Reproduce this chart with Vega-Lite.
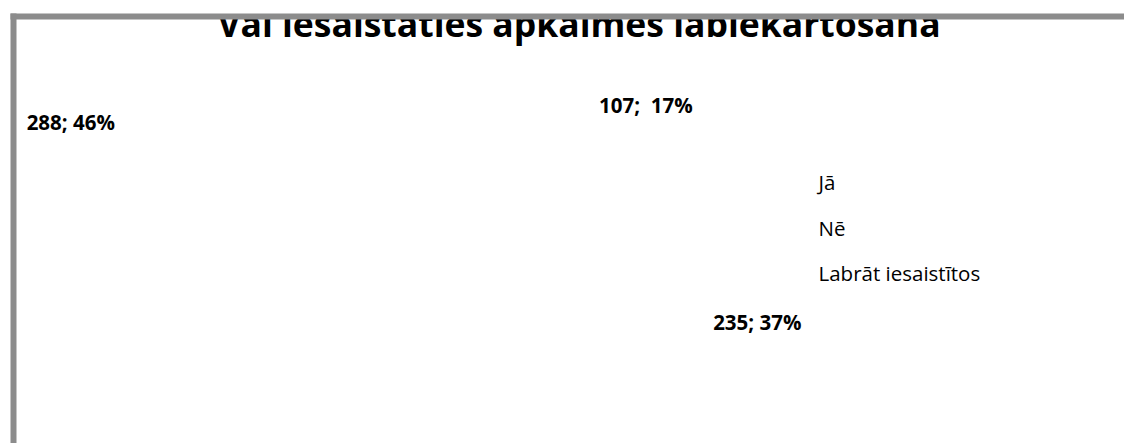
{
  "$schema": "https://vega.github.io/schema/vega-lite/v6.json",
  "width": 1132,
  "height": 430,
  "autosize": {"type": "none"},
  "padding": {"left": 13, "top": 16, "right": 0, "bottom": 0},
  "background": "white",
  "config": {"view": {"stroke": null}},
  "title": {
    "text": "Vai iesaistāties apkaimes labiekārtošanā",
    "font": "Open Sans",
    "fontSize": 35.5,
    "fontWeight": "bold",
    "color": "black",
    "anchor": "middle",
    "frame": "group",
    "baseline": "alphabetic",
    "offset": -27,
    "dy": 37.5,
    "zindex": 0
  },
  "data": {
    "values": [
      {"cat": "Jā", "n": 107, "ord": 1, "label": "107;\u00a0 17%"},
      {"cat": "Nē", "n": 235, "ord": 2, "label": "235; 37%"},
      {"cat": "Labrāt iesaistītos", "n": 288, "ord": 3, "label": "288; 46%"}
    ]
  },
  "resolve": {"scale": {"x": "independent"}},
  "encoding": {
    "theta": {"field": "n", "type": "quantitative", "stack": true},
    "order": {"field": "ord", "type": "quantitative"}
  },
  "layer": [
    {
      "mark": {"type": "arc", "outerRadius": 170, "stroke": "white"},
      "encoding": {
        "color": {
          "field": "cat",
          "type": "nominal",
          "scale": {"domain": ["Jā", "Nē", "Labrāt iesaistītos"], "range": ["white", "white", "white"]},
          "legend": {
            "title": null,
            "orient": "none",
            "legendX": 781,
            "legendY": 158,
            "padding": 0,
            "symbolSize": 100,
            "symbolType": "square",
            "symbolStrokeWidth": 0,
            "symbolOpacity": 0,
            "labelOffset": 4,
            "labelFont": "Open Sans",
            "labelFontSize": 20.5,
            "labelColor": "black",
            "labelLimit": 400,
            "rowPadding": 24.5
          }
        }
      }
    },
    {
      "mark": {"type": "text", "font": "Open Sans", "fontWeight": "bold", "fontSize": 20.5, "color": "black", "align": "center", "baseline": "middle", "dx": 15, "dy": -36},
      "encoding": {
        "detail": {"field": "cat", "type": "nominal"},
        "radius": {
          "field": "n",
          "type": "quantitative",
          "scale": {"type": "linear", "domain": [107, 235, 288], "range": [102, 208, 528], "zero": false}
        },
        "text": {"field": "label", "type": "nominal"}
      }
    },
    {
      "mark": {"type": "point", "opacity": 0},
      "encoding": {
        "x": {
          "datum": 0.5,
          "type": "quantitative",
          "scale": {"domain": [0, 1]},
          "axis": {"orient": "top", "domain": true, "domainColor": "#8c8c8c", "domainWidth": 6, "domainCap": "square", "ticks": false, "labels": false, "grid": false, "title": null, "zindex": 3}
        },
        "y": {
          "datum": 0.5,
          "type": "quantitative",
          "scale": {"domain": [0, 1]},
          "axis": {"orient": "left", "domain": true, "domainColor": "#8c8c8c", "domainWidth": 6, "domainCap": "square", "ticks": false, "labels": false, "grid": false, "title": null, "zindex": 3}
        }
      }
    },
    {
      "mark": {"type": "point", "opacity": 0},
      "encoding": {
        "x": {
          "datum": 0.5,
          "type": "quantitative",
          "scale": {"domain": [0, 1]},
          "axis": {"orient": "top", "offset": 8, "domain": true, "domainColor": "white", "domainWidth": 16, "domainCap": "butt", "ticks": false, "labels": false, "grid": false, "title": null, "zindex": 1}
        }
      }
    }
  ]
}
